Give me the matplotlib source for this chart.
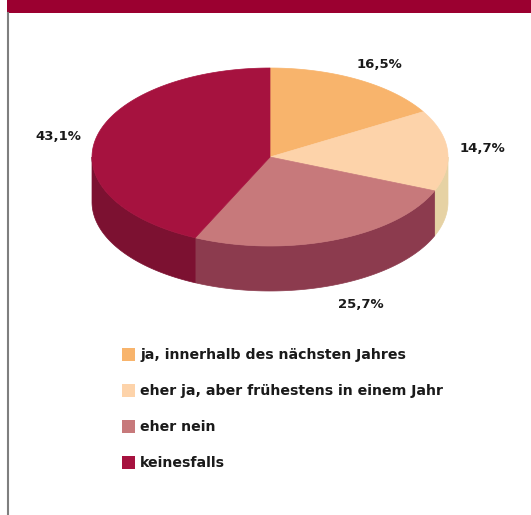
import numpy as np
import matplotlib
matplotlib.use("Agg")
import matplotlib.pyplot as plt
from matplotlib.patches import Polygon, Rectangle

categories = ["ja, innerhalb des nächsten Jahres",
              "eher ja, aber frühestens in einem Jahr",
              "eher nein",
              "keinesfalls"]
values = [16.5, 14.7, 25.7, 43.1]
value_labels = ["16,5%", "14,7%", "25,7%", "43,1%"]

top_colors = ["#F8B46C", "#FDD3AA", "#C7797B", "#A6123F"]
side_colors = ["#D8955A", "#E6D2A4", "#8C3B4E", "#7C1131"]

W, H = 531, 515
fig = plt.figure(figsize=(W / 100, H / 100), dpi=100)
ax = fig.add_axes([0, 0, 1, 1])
ax.set_xlim(0, W)
ax.set_ylim(H, 0)
ax.axis("off")

# banner and left border
ax.add_patch(Rectangle((7, 0), W - 7, 13, color="#9B0030", lw=0))
ax.plot([8, 8], [13, H], color="#7F7F7F", lw=1.5)

cx, cy, rx, ry, depth = 270, 157, 178, 89, 45

def pt(theta_deg, dy=0.0):
    t = np.radians(theta_deg)
    return cx + rx * np.cos(t), cy - ry * np.sin(t) + dy

total = sum(values)
angles = []
start = 90.0
for v in values:
    end = start - v / total * 360.0
    angles.append((start, end))
    start = end

# side faces (front half: theta in [-180, 0] modulo 360)
for (a1, a2), sc in zip(angles, side_colors):
    hi, lo = a1, a2
    for k in (-360, 0, 360):
        s_hi = min(hi, 0 + k)
        s_lo = max(lo, -180 + k)
        if s_hi > s_lo:
            th = np.linspace(s_hi, s_lo, 80)
            top = [pt(t) for t in th]
            bot = [pt(t, depth) for t in th[::-1]]
            ax.add_patch(Polygon(top + bot, closed=True, facecolor=sc,
                                 edgecolor=sc, lw=0.5))

# top faces
for (a1, a2), tc in zip(angles, top_colors):
    th = np.linspace(a1, a2, 120)
    verts = [(cx, cy)] + [pt(t) for t in th]
    ax.add_patch(Polygon(verts, closed=True, facecolor=tc, edgecolor=tc, lw=0.5))

# value labels
label_pos = [(379, 65), (482, 148), (361, 304), (58, 136)]
for (x, y), lab in zip(label_pos, value_labels):
    ax.text(x, y, lab, ha="center", va="center", fontsize=9.5,
            fontweight="bold", color="#1A1A1A", family="DejaVu Sans")

# legend
ys = [355, 391, 427, 463]
for y, c, lab in zip(ys, top_colors, categories):
    ax.add_patch(Rectangle((122, y - 7), 13, 13, facecolor=c, edgecolor="none"))
    ax.text(140, y, lab, ha="left", va="center", fontsize=10.2, color="#1A1A1A",
            fontweight="bold", family="DejaVu Sans")

fig.savefig("out.png", dpi=100)
